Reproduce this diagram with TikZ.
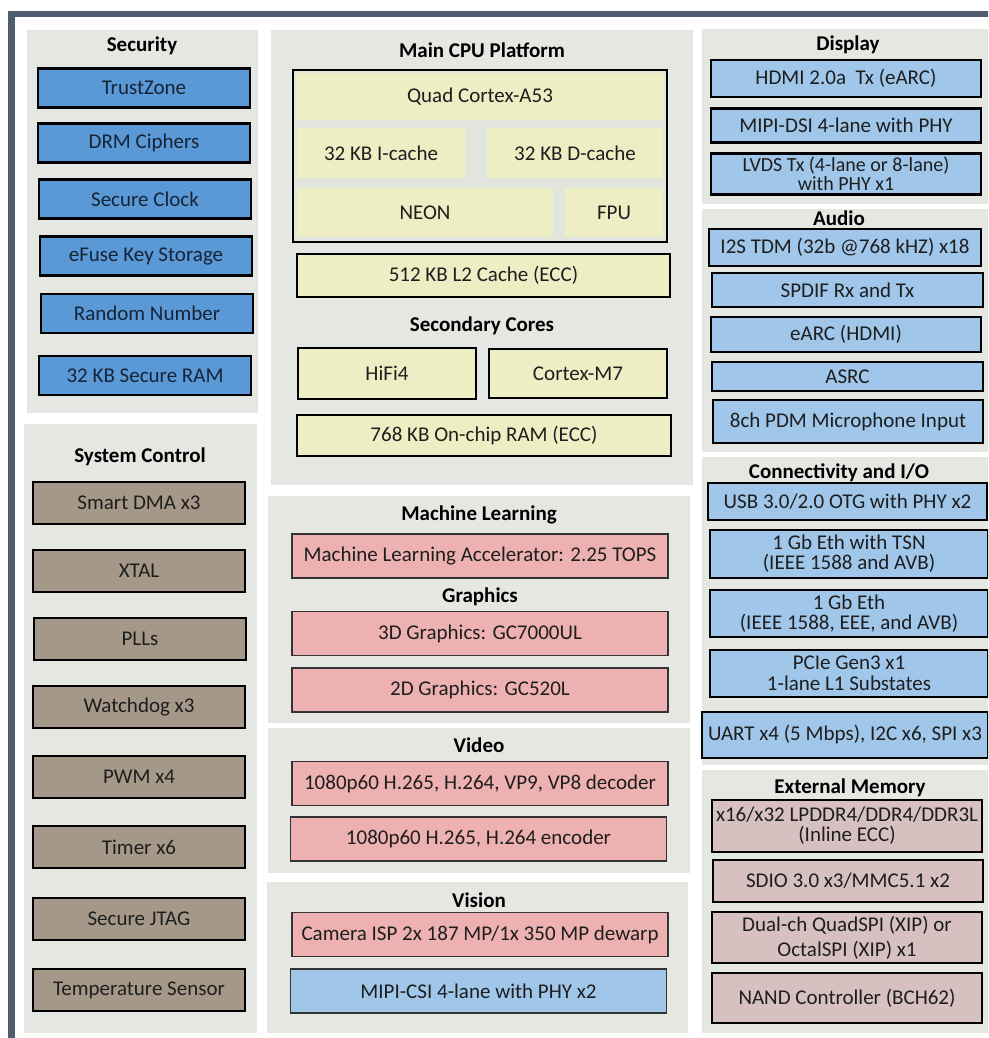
\documentclass[tikz,border=0pt]{standalone}
\usepackage{fontspec}
\setmainfont{Carlito}
\usepackage{xcolor}
\usepackage{tikz}

\definecolor{framegray}{RGB}{78,94,110}
\definecolor{panelgray}{RGB}{228,231,226}
\definecolor{cpugap}{RGB}{226,229,222}
\definecolor{secblue}{RGB}{90,152,214}
\definecolor{secnavy}{RGB}{22,36,56}
\definecolor{lightblue}{RGB}{160,198,234}
\definecolor{cpuyellow}{RGB}{238,238,196}
\definecolor{sysbrown}{RGB}{166,152,136}
\definecolor{mlpink}{RGB}{238,177,177}
\definecolor{mempink}{RGB}{214,192,192}
\definecolor{txtdark}{RGB}{30,30,30}

\begin{document}
\begin{tikzpicture}[x=1pt,y=-1pt,
    every node/.style={font=\fontsize{21}{20}\selectfont, text=txtdark, inner sep=0pt, align=center},
    panel/.style={fill=panelgray},
    head/.style={font=\fontsize{21}{20}\selectfont\bfseries, text=black},
    blk/.style={draw=black, line width=2.6pt},
    secbox/.style={blk, fill=secblue, text=secnavy, minimum width=212pt, minimum height=39pt},
    sysbox/.style={blk, fill=sysbrown, minimum width=212pt, minimum height=42pt},
    cpubox/.style={blk, fill=cpuyellow},
    cpupart/.style={fill=cpuyellow},
    mlbox/.style={draw=black!80, line width=1.3pt, fill=mlpink, minimum width=376pt, minimum height=44pt},
    iobox/.style={blk, fill=lightblue},
    membox/.style={blk, fill=mempink, minimum width=270pt}]

    \clip (0,0) rectangle (988,1038);
    \fill[white] (0,0) rectangle (988,1038);

    % Outer frame
    \draw[line width=6.5pt, framegray] (11.5,1040) -- (11.5,14) -- (990,14);

    % Security
    \node[panel, minimum width=231pt, minimum height=383pt] (secP) at (142.5,221.5) {};
    \node[head] (secT) at (142,46) {Security};
    \node[secbox] (trust) at (144,88) {TrustZone};
    \node[secbox] (drm) at (144,143) {DRM Ciphers};
    \node[secbox] (sclk) at (145,199) {Secure Clock};
    \node[secbox] (efuse) at (146,256) {eFuse Key Storage};
    \node[secbox] (rng) at (147,313.5) {Random Number};
    \node[secbox] (sram) at (145,375.5) {32 KB Secure RAM};

    % System Control
    \node[panel, minimum width=233pt, minimum height=609pt] (sysP) at (140.5,728.5) {};
    \node[head] (sysT) at (140,457) {System Control};
    \node[sysbox] (dma) at (139,503) {Smart DMA x3};
    \node[sysbox] (xtal) at (139,571) {XTAL};
    \node[sysbox] (pll) at (140,639) {PLLs};
    \node[sysbox] (wdog) at (139,707) {Watchdog x3};
    \node[sysbox] (pwm) at (139,777) {PWM x4};
    \node[sysbox] (timer) at (139,847) {Timer x6};
    \node[sysbox] (jtag) at (139,919) {Secure JTAG};
    \node[sysbox] (tsens) at (139,990) {Temperature Sensor};

    % Main CPU Platform
    \node[panel, minimum width=422pt, minimum height=455pt] (cpuP) at (482,257.5) {};
    \node[head] (cpuT) at (482,50) {Main CPU Platform};
    \node[blk, fill=cpugap, minimum width=374pt, minimum height=172pt] (a53) at (480,156) {};
    \node[cpupart, minimum width=368pt, minimum height=47pt] (quad) at (480,96.5) {Quad Cortex-A53};
    \node[cpupart, minimum width=168pt, minimum height=50pt] (icache) at (381,153) {32 KB I-cache};
    \node[cpupart, minimum width=176pt, minimum height=50pt] (dcache) at (575,153) {32 KB D-cache};
    \node[cpupart, minimum width=256pt, minimum height=49pt] (neon) at (425,212.5) {NEON};
    \node[cpupart, minimum width=98pt, minimum height=49pt] (fpu) at (614,212.5) {FPU};
    \node[cpubox, minimum width=373pt, minimum height=43pt] (l2) at (483.5,275.5) {512 KB L2 Cache (ECC)};

    % Secondary Cores
    \node[head] (coreT) at (482,326) {Secondary Cores};
    \node[cpubox, minimum width=178pt, minimum height=51pt] (hifi) at (387,373.5) {HiFi4};
    \node[cpubox, minimum width=178pt, minimum height=49pt] (m7) at (578,373.5) {Cortex-M7};
    \node[cpubox, minimum width=374pt, minimum height=41pt] (ocram) at (484,435.5) {768 KB On-chip RAM (ECC)};

    % Machine Learning and Graphics
    \node[panel, minimum width=422pt, minimum height=227pt] (mlP) at (479,609.5) {};
    \node[head] (mlT) at (479,515) {Machine Learning};
    \node[mlbox] (npu) at (480,556) {Machine Learning Accelerator: 2.25 TOPS};
    \node[head] (gfxT) at (480,597) {Graphics};
    \node[mlbox] (gpu3d) at (480,633.5) {3D Graphics: GC7000UL};
    \node[mlbox] (gpu2d) at (480,690) {2D Graphics: GC520L};

    % Video
    \node[panel, minimum width=422pt, minimum height=145pt] (vidP) at (479,800.5) {};
    \node[head] (vidT) at (479,745) {Video};
    \node[mlbox] (vdec) at (480,783.5) {1080p60 H.265, H.264, VP9, VP8 decoder};
    \node[mlbox] (venc) at (478.5,839) {1080p60 H.265, H.264 encoder};

    % Vision
    \node[panel, minimum width=421pt, minimum height=151pt] (visP) at (477.5,957.5) {};
    \node[head] (visT) at (479,900) {Vision};
    \node[mlbox] (isp) at (480,934.5) {Camera ISP 2x 187 MP/1x 350 MP dewarp};
    \node[mlbox, fill=lightblue] (csi) at (478.5,991) {MIPI-CSI 4-lane with PHY x2};

    % Display
    \node[panel, minimum width=286pt, minimum height=175pt] (dispP) at (845,116.5) {};
    \node[head] (dispT) at (848,45) {Display};
    \node[iobox, minimum width=270pt, minimum height=37pt] (hdmi) at (846,78.5) {HDMI 2.0a\ \ Tx (eARC)};
    \node[iobox, minimum width=270pt, minimum height=34pt] (dsi) at (846,125.5) {MIPI-DSI 4-lane with PHY};
    \node[iobox, minimum width=270pt, minimum height=41pt, font=\fontsize{20}{19}\selectfont] (lvds) at (846,174) {LVDS Tx (4-lane or 8-lane)\\with PHY x1};

    % Audio
    \node[panel, minimum width=286pt, minimum height=243pt] (audP) at (845,330.5) {};
    \node[head] (audT) at (839,218) {Audio};
    \node[iobox, minimum width=272pt, minimum height=37pt] (i2s) at (845,247.5) {I2S TDM (32b @768 kHZ) x18};
    \node[iobox, minimum width=271pt, minimum height=34pt] (spdif) at (847.5,290) {SPDIF Rx and Tx};
    \node[iobox, minimum width=270pt, minimum height=35pt] (earc) at (846,334.5) {eARC (HDMI)};
    \node[iobox, minimum width=271pt, minimum height=29pt] (asrc) at (847.5,376.5) {ASRC};
    \node[iobox, minimum width=270pt, minimum height=43pt] (pdm) at (848,421.5) {8ch PDM Microphone Input};

    % Connectivity and I/O
    \node[panel, minimum width=286pt, minimum height=308pt] (conP) at (845,611) {};
    \node[head] (conT) at (839,473) {Connectivity and I/O};
    \node[iobox, minimum width=279pt, minimum height=37pt] (usb) at (847.5,501.5) {USB 3.0/2.0 OTG with PHY x2};
    \node[iobox, minimum width=278pt, minimum height=48pt] (tsn) at (849,554) {1 Gb Eth with TSN\\(IEEE 1588 and AVB)};
    \node[iobox, minimum width=278pt, minimum height=47pt] (eth) at (849,613.5) {1 Gb Eth\\(IEEE 1588, EEE, and AVB)};
    \node[iobox, minimum width=278pt, minimum height=47pt, font=\fontsize{21}{21}\selectfont] (pcie) at (849,673.5) {PCIe Gen3 x1\\1-lane L1 Substates};
    \node[iobox, minimum width=286pt, minimum height=46pt] (uart) at (845,735) {UART x4 (5 Mbps), I2C x6, SPI x3};

    % External Memory
    \node[panel, minimum width=286pt, minimum height=263pt] (memP) at (845,901.5) {};
    \node[head] (memT) at (850,788) {External Memory};
    \node[membox, minimum height=52pt, font=\fontsize{21}{20}\selectfont] (ddr) at (847,826) {x16/x32 LPDDR4/DDR4/DDR3L\\(Inline ECC)};
    \node[membox, minimum height=42pt] (sdio) at (848,881) {SDIO 3.0 x3/MMC5.1 x2};
    \node[membox, minimum height=51pt, font=\fontsize{21}{25}\selectfont] (qspi) at (847,937.5) {Dual-ch QuadSPI (XIP) or\\OctalSPI (XIP) x1};
    \node[membox, minimum height=50pt] (nand) at (847,998) {NAND Controller (BCH62)};
\end{tikzpicture}
\end{document}
